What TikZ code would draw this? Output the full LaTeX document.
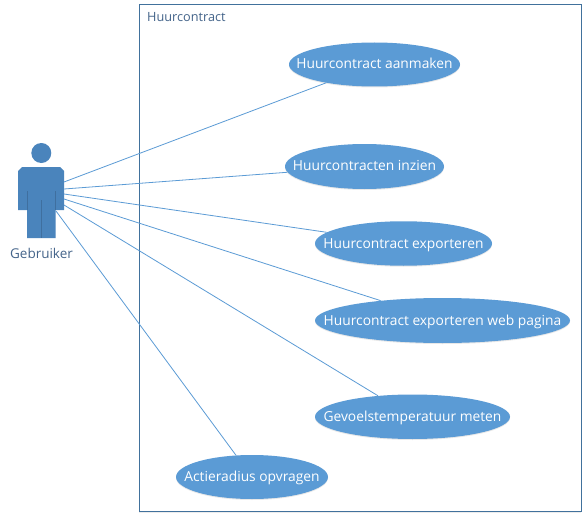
\documentclass[tikz,border=0pt]{standalone}
\usepackage{fontspec}
\setmainfont{Open Sans}
\usetikzlibrary{shapes.geometric,shadows}
\definecolor{usefill}{HTML}{5B9BD5}
\definecolor{frameblue}{HTML}{41719C}
\definecolor{actorfill}{HTML}{4A84BC}
\definecolor{actorline}{HTML}{3F6F9F}
\definecolor{labelblue}{HTML}{44648A}
\tikzset{
  usecase/.style={ellipse,fill=usefill,inner sep=0pt,
    drop shadow={opacity=0.18,shadow xshift=0pt,shadow yshift=-1pt}},
  uselabel/.style={text=white,inner sep=0pt,text height=9pt,text depth=0pt,font=\fontsize{13.8}{16}\selectfont},
  link/.style={draw=usefill,line width=0.8pt},
  lbl/.style={text=labelblue,inner sep=0pt}
}
\begin{document}
\begin{tikzpicture}[x=1pt,y=-1pt]
\useasboundingbox (0,0) rectangle (587,519);
\fill[white] (0,0) rectangle (587,519);
\node[draw=frameblue,fill=white,line width=0.9pt,minimum width=442pt,minimum height=507.5pt,inner sep=0pt,
  drop shadow={opacity=0.15,shadow xshift=0pt,shadow yshift=-1pt}] (frame) at (360,257.75) {};
\node[lbl,anchor=west,font=\fontsize{12.7}{15}\selectfont] (title) at (147,17) {Huurcontract};
\node[usecase,minimum width=171pt,minimum height=44pt] (e1) at (374.5,64.5) {};
\node[usecase,minimum width=159pt,minimum height=45pt] (e2) at (364.5,166.5) {};
\node[usecase,minimum width=177pt,minimum height=44.5pt] (e3) at (403.5,243.5) {};
\node[usecase,minimum width=255pt,minimum height=45pt] (e4) at (442.5,320.5) {};
\node[usecase,minimum width=195pt,minimum height=44.5pt] (e5) at (412.5,416.75) {};
\node[usecase,minimum width=152pt,minimum height=44pt] (e6) at (252,477) {};
\node[uselabel] (t1) at (e1) {Huurcontract aanmaken};
\node[uselabel] (t2) at (e2) {Huurcontracten inzien};
\node[uselabel] (t3) at (e3) {Huurcontract exporteren};
\node[uselabel] (t4) at (e4) {Huurcontract exporteren web pagina};
\node[uselabel] (t5) at (e5) {Gevoelstemperatuur meten};
\node[uselabel] (t6) at (e6) {Actieradius opvragen};
\coordinate (a1) at (64,182);
\coordinate (a2) at (64,189);
\coordinate (a3) at (64,194);
\coordinate (a4) at (64,199);
\coordinate (a5) at (64,205);
\coordinate (a6) at (56,211);
\draw[link] (a1) -- (e1);
\draw[link] (a2) -- (e2);
\draw[link] (a3) -- (e3);
\draw[link] (a4) -- (e4);
\draw[link] (a5) -- (e5);
\draw[link] (a6) -- (e6);
\fill[actorfill] (41.3,153) circle (10);
\fill[actorfill] (22,167) -- (60,167) -- (64,171) -- (64,210) -- (55.5,210) -- (55.5,238) -- (27,238) -- (27,210) -- (18,210) -- (18,171) -- cycle;
\draw[actorline,line width=0.7pt] (27,191) -- (27,210) (55.5,191) -- (55.5,210) (41.5,200) -- (41.5,238);
\node[lbl,anchor=center,font=\fontsize{13.5}{16}\selectfont] (actor) at (41.5,253.5) {Gebruiker};
\end{tikzpicture}
\end{document}
